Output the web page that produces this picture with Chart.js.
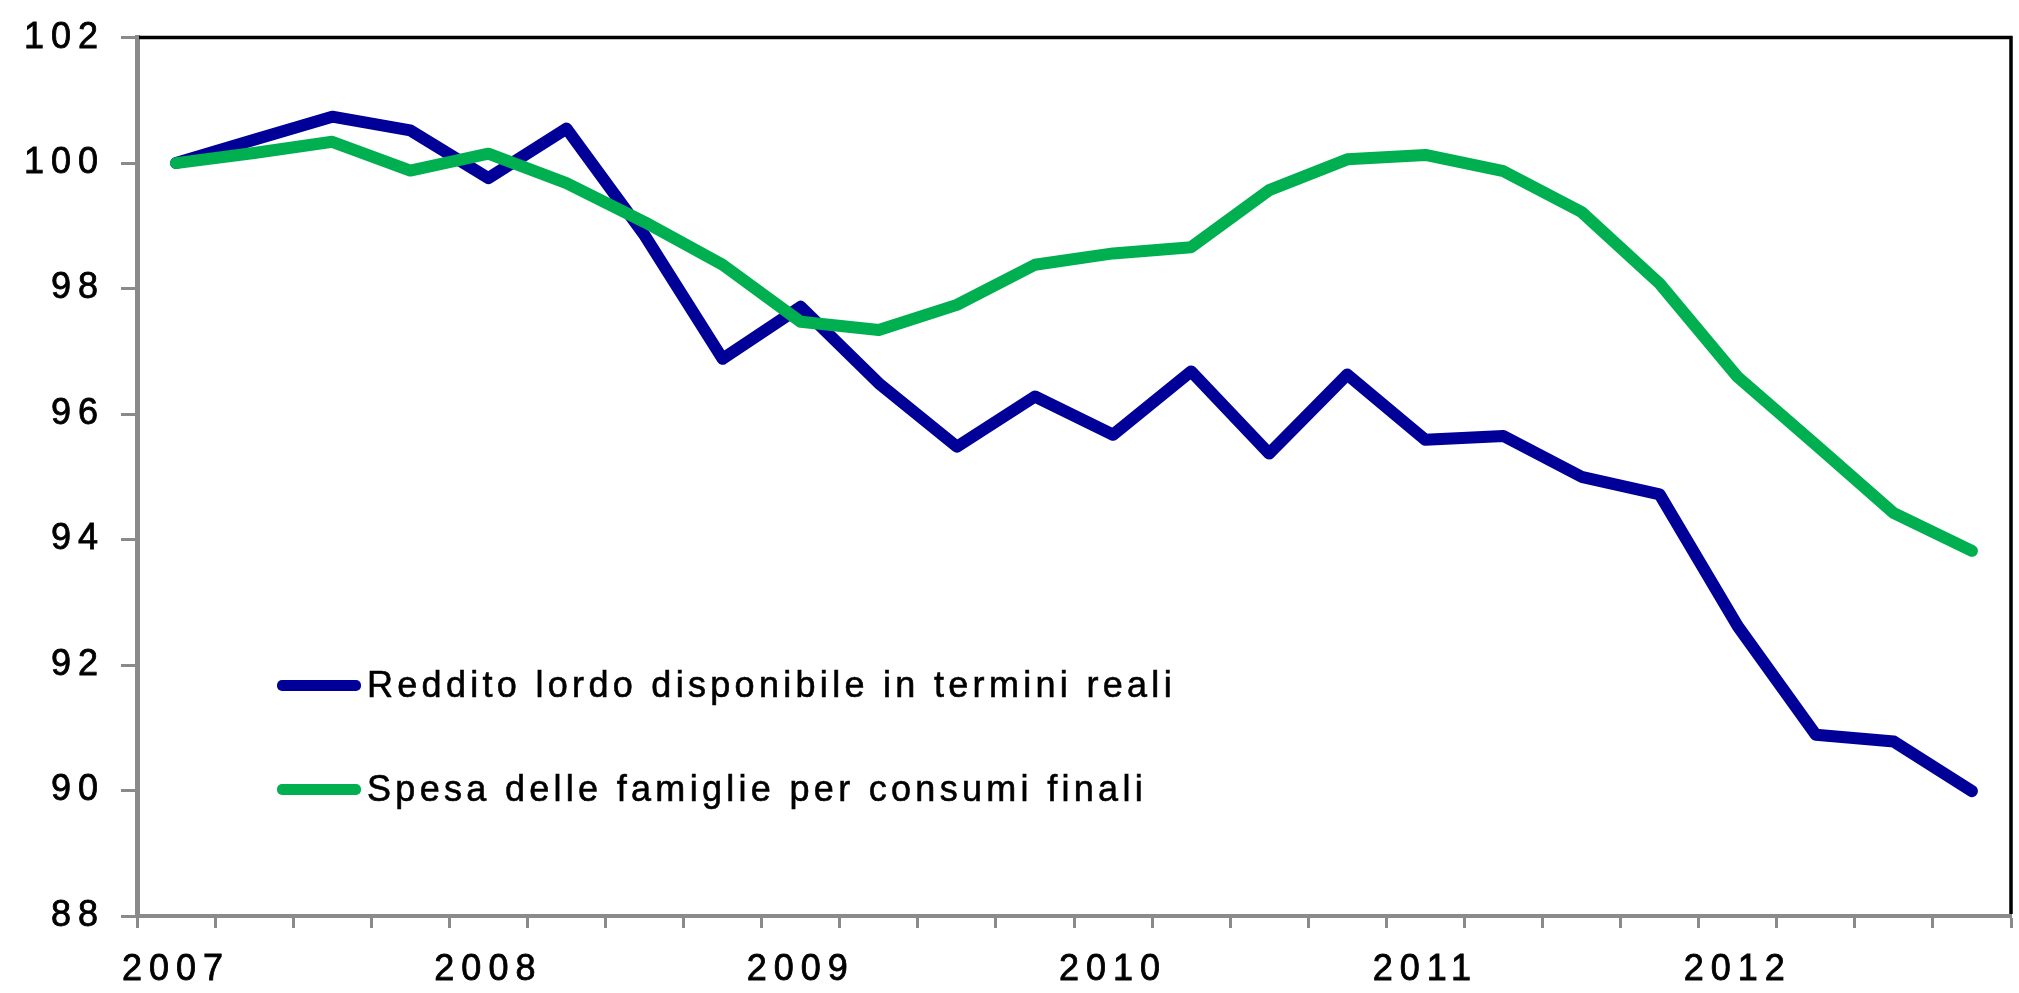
<!DOCTYPE html>
<html>
<head>
<meta charset="utf-8">
<script src="https://cdn.jsdelivr.net/npm/chart.js@4/dist/chart.umd.min.js"></script>
<style>
  html, body { margin: 0; padding: 0; background: #fff; }
  #wrap { position: relative; width: 2019px; height: 993px; overflow: hidden; }
  canvas { display: block; }
  .leg { position: absolute; left: 277px; height: 40px; line-height: 40px; display: flex; align-items: center;
         font-family: 'Liberation Sans', Arial, sans-serif; font-size: 36px; letter-spacing: 4.3px; color: #000;
         white-space: nowrap; -webkit-text-stroke: 0.6px #000; }
  .sw { width: 84px; height: 11px; border-radius: 5px; margin-right: 6px; }
</style>
</head>
<body>
<div id="wrap">
  <canvas id="c" width="2019" height="993"></canvas>
  <div class="leg" id="leg1" style="top:665px;"><span class="sw" style="background:#000099"></span><span>Reddito lordo disponibile in termini reali</span></div>
  <div class="leg" id="leg2" style="top:769px;"><span class="sw" style="background:#00B050"></span><span>Spesa delle famiglie per consumi finali</span></div>
</div>
<script>
// ---- data ----
const quarters = [
  '2007-T1','2007-T2','2007-T3','2007-T4',
  '2008-T1','2008-T2','2008-T3','2008-T4',
  '2009-T1','2009-T2','2009-T3','2009-T4',
  '2010-T1','2010-T2','2010-T3','2010-T4',
  '2011-T1','2011-T2','2011-T3','2011-T4',
  '2012-T1','2012-T2','2012-T3','2012-T4'
];
const reddito = [100.0, 100.37, 100.74, 100.52, 99.76, 100.55, 98.85, 96.88,
                 97.71, 96.49, 95.48, 96.28, 95.67, 96.68, 95.37, 96.63,
                 95.59, 95.65, 95.00, 94.72, 92.62, 90.89, 90.78, 89.99];
const spesa   = [100.0, 100.16, 100.34, 99.88, 100.15, 99.68, 99.06, 98.38,
                 97.47, 97.34, 97.74, 98.38, 98.56, 98.66, 99.57, 100.06,
                 100.13, 99.87, 99.22, 98.08, 96.59, 95.51, 94.42, 93.82];
const seriesNames = ['Reddito lordo disponibile in termini reali', 'Spesa delle famiglie per consumi finali'];
const yTicks = [88, 90, 92, 94, 96, 98, 100, 102];

const FONT = "'Liberation Sans', Arial, sans-serif";
const GREY = '#8a8a8a';

const spacing = {
  id: 'spacing',
  beforeUpdate(c) { c.ctx.letterSpacing = '7px'; },
  beforeDraw(c) { c.ctx.letterSpacing = '7px'; }
};
const frame = {
  id: 'frame',
  afterDraw(c) {
    const a = c.chartArea, ctx = c.ctx;
    ctx.save();
    ctx.strokeStyle = '#000';
    ctx.lineWidth = 3.5;
    ctx.beginPath();
    ctx.moveTo(a.left + 2, a.top);
    ctx.lineTo(a.right, a.top);
    ctx.lineTo(a.right, a.bottom - 2);
    ctx.stroke();
    ctx.restore();
  }
};

new Chart(document.getElementById('c'), {
  type: 'line',
  data: {
    labels: quarters,
    datasets: [
      { label: seriesNames[0], data: reddito, borderColor: '#000099', backgroundColor: '#000099',
        borderWidth: 12, pointRadius: 0, tension: 0, borderJoinStyle: 'round', borderCapStyle: 'round', order: 1 },
      { label: seriesNames[1], data: spesa, borderColor: '#00B050', backgroundColor: '#00B050',
        borderWidth: 12, pointRadius: 0, tension: 0, borderJoinStyle: 'round', borderCapStyle: 'round', order: 0 }
    ]
  },
  options: {
    responsive: false,
    animation: false,
    devicePixelRatio: 1,
    layout: { padding: { left: 0, right: 8, top: 37, bottom: 0 } },
    plugins: { legend: { display: false }, tooltip: { enabled: false } },
    scales: {
      x: {
        offset: true,
        grid: { offset: true, drawOnChartArea: false, drawTicks: true, tickLength: 12, tickWidth: 3, tickColor: GREY },
        border: { color: GREY, width: 4 },
        ticks: {
          autoSkip: false, maxRotation: 0, minRotation: 0, padding: 20, color: '#000',
          textStrokeColor: '#000', textStrokeWidth: 0.8,
          font: { family: FONT, size: 36 },
          callback: (v, i) => quarters[i].endsWith('T1') ? quarters[i].slice(0, 4) : ''
        },
        afterFit: (s) => { s.height = 77; }
      },
      y: {
        min: 88, max: 102,
        afterBuildTicks: (s) => { s.ticks = yTicks.map(v => ({ value: v })); },
        grid: { drawOnChartArea: false, drawTicks: true, tickLength: 16, tickWidth: 3, tickColor: GREY },
        border: { color: GREY, width: 5 },
        ticks: { padding: 16, color: '#000', textStrokeColor: '#000', textStrokeWidth: 0.8,
                 font: { family: FONT, size: 36 } },
        afterFit: (s) => { s.width = 137; }
      }
    }
  },
  plugins: [spacing, frame]
});
</script>
</body>
</html>
